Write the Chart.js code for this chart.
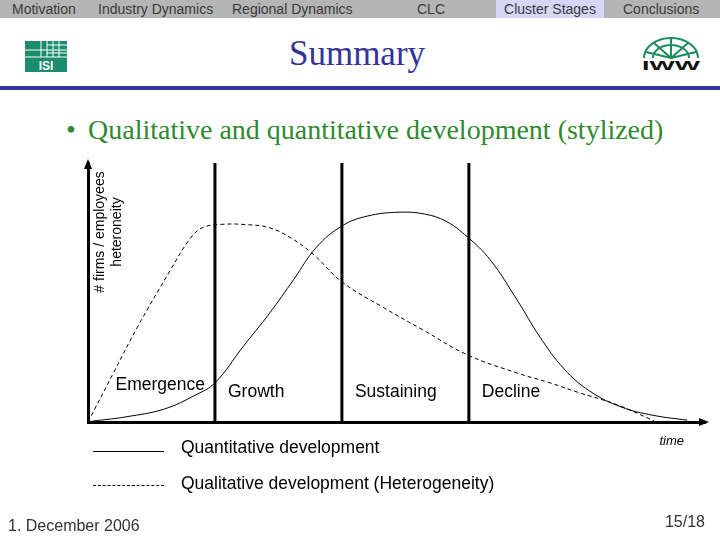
<!DOCTYPE html>
<html>
<head>
<meta charset="utf-8">
<script src="https://cdn.jsdelivr.net/npm/chart.js@4.4.1/dist/chart.umd.min.js"></script>
<style>
  body { margin: 0; background: #fff; }
  #slide { position: relative; width: 720px; height: 540px; overflow: hidden; font-family: "Liberation Sans", Arial, sans-serif; }
  #nav { position: absolute; left: 0; top: 0; width: 720px; height: 18px; background: #b5b5b5; }
  #nav span { position: absolute; top: 0; height: 18px; line-height: 18px; font-size: 14px; color: #3a3a3a; }
  #nav .on { background: #d6d6f6; }
  #title { position: absolute; left: 0; width: 714px; top: 34px; text-align: center; font-family: "Liberation Serif", "Times New Roman", serif; font-size: 35px; color: #333399; }
  #rule { position: absolute; left: 0; top: 86px; width: 720px; height: 4px; background: #333399; }
  .bul { position: absolute; top: 114px; font-family: "Liberation Serif", "Times New Roman", serif; font-size: 28px; color: #2f8a2f; white-space: nowrap; }
  #chart { position: absolute; left: 0; top: 0; }
  .leg { position: absolute; font-size: 17.5px; color: #000; white-space: nowrap; }
  .legline { position: absolute; left: 93px; width: 71px; height: 0; }
  .foot { position: absolute; font-size: 16px; color: #333; }
</style>
</head>
<body>
<div id="slide">
  <div id="nav">
    <span style="left:12px">Motivation</span>
    <span style="left:98px">Industry Dynamics</span>
    <span style="left:232px">Regional Dynamics</span>
    <span style="left:417px">CLC</span>
    <span class="on" style="left:496px;width:108px;text-align:center">Cluster Stages</span>
    <span style="left:623px">Conclusions</span>
  </div>
  <svg style="position:absolute;left:25px;top:41px" width="42" height="31">
    <rect x="0" y="0" width="42" height="31" fill="#1b8c6c"/>
    <g stroke="#fff" stroke-width="1">
      <line x1="0" y1="9" x2="42" y2="9"/><line x1="0" y1="16" x2="42" y2="16"/>
      <line x1="16" y1="0" x2="16" y2="16"/>
      <line x1="22" y1="0" x2="22" y2="16"/><line x1="28" y1="0" x2="28" y2="16"/>
      <line x1="34" y1="0" x2="34" y2="16"/><line x1="22" y1="4" x2="42" y2="4"/>
      <line x1="22" y1="12" x2="42" y2="12"/>
    </g>
    <text x="21" y="29" font-family="Liberation Sans, Arial" font-weight="bold" font-size="12" fill="#fff" text-anchor="middle">ISI</text>
  </svg>
  <svg style="position:absolute;left:639px;top:37px" width="64" height="34">
    <g fill="none" stroke="#1b8c5c" stroke-width="2">
      <path d="M5 21 A27 20 0 0 1 59 21"/>
      <path d="M14 21 A18 13 0 0 1 50 21"/>
      <line x1="32" y1="21" x2="32" y2="1"/><line x1="32" y1="21" x2="15" y2="6"/>
      <line x1="32" y1="21" x2="49" y2="6"/><line x1="32" y1="21" x2="7" y2="15"/>
      <line x1="32" y1="21" x2="57" y2="15"/>
    </g>
    <text x="32" y="33" font-family="Liberation Sans, Arial" font-weight="900" font-size="13" fill="#111" text-anchor="middle" textLength="58" lengthAdjust="spacingAndGlyphs">IWW</text>
  </svg>
  <div id="title">Summary</div>
  <div id="rule"></div>
  <div class="bul" style="left:66px">&bull;</div>
  <div class="bul" style="left:88px">Qualitative and quantitative development (stylized)</div>
  <canvas id="chart" width="720" height="540"></canvas>
  <div class="legline" style="top:451px;border-top:1px solid #000"></div>
  <div class="leg" style="left:181px;top:437px">Quantitative development</div>
  <div class="legline" style="top:485px;border-top:1px dashed #000"></div>
  <div class="leg" style="left:181px;top:473px">Qualitative development (Heterogeneity)</div>
  <div class="foot" style="left:8px;top:517px">1. December 2006</div>
  <div class="foot" style="right:15px;top:513px">15/18</div>
</div>
<script>
// stylized curves, x = time (1 unit per stage), y = 0..100
const quantX = [0.03, 0.3, 0.6, 0.85, 1.0, 1.22, 1.43, 1.62, 1.8, 2.0, 2.2, 2.45, 2.65, 2.82, 2.99, 3.17, 3.38, 3.56, 3.75, 3.95, 4.2, 4.45, 4.72];
const quantY = [0.3, 2, 5, 10.5, 15.1, 29, 42, 55, 67.5, 75.7, 79.5, 81, 80.3, 77.5, 71.4, 62.5, 47.1, 32.8, 20.5, 12, 5.8, 2.6, 0.7];
const qualX = [0, 0.2, 0.39, 0.65, 0.8, 0.9, 1.05, 1.25, 1.43, 1.6, 1.78, 2.0, 2.32, 2.64, 2.99, 3.38, 3.64, 3.85, 4.17, 4.46];
const qualY = [0, 18.9, 36.7, 58.7, 70.5, 75, 76.3, 76.2, 75, 71, 64.5, 54.1, 44.4, 35.5, 25.9, 18.9, 15.1, 11.6, 6.6, 0.4];
const stageBounds = [1, 2, 3];
const stageNames = ['Emergence', 'Growth', 'Sustaining', 'Decline'];
const xMax = 4.86;
const yMax = 100;

const toPts = (xs, ys) => xs.map((x, i) => ({ x: x, y: ys[i] }));

const datasets = [
    {
        label: 'Quantitative development',
        data: toPts(quantX, quantY),
        borderColor: '#000', borderWidth: 1, pointRadius: 0,
        tension: 0.4, clip: false
    },
    {
        label: 'Qualitative development (Heterogeneity)',
        data: toPts(qualX, qualY),
        borderColor: '#000', borderWidth: 1, borderDash: [4, 3], pointRadius: 0,
        tension: 0.4, clip: false
    }
];
stageBounds.forEach(b => {
    datasets.push({
        data: [{ x: b, y: 0 }, { x: b, y: yMax }],
        borderColor: '#000', borderWidth: 3, pointRadius: 0, clip: false
    });
});

// arrows, stage names, y title, "time"
const decor = {
    id: 'decor',
    afterDraw(chart) {
        const ctx = chart.ctx;
        const xs = chart.scales.x;
        const left = chart.chartArea.left, bottom = chart.chartArea.bottom;
        const top = chart.chartArea.top, right = chart.chartArea.right;
        ctx.save();
        ctx.fillStyle = '#000';
        // arrow heads
        ctx.beginPath();
        ctx.moveTo(left, top - 4); ctx.lineTo(left - 4, top + 6); ctx.lineTo(left + 4, top + 6); ctx.closePath();
        ctx.fill();
        ctx.beginPath();
        ctx.moveTo(right + 4, bottom); ctx.lineTo(right - 6, bottom - 4); ctx.lineTo(right - 6, bottom + 4); ctx.closePath();
        ctx.fill();

        // stage names
        ctx.font = '17.5px "Liberation Sans", Arial, sans-serif';
        ctx.textBaseline = 'middle';
        ctx.textAlign = 'right';
        ctx.fillText(stageNames[0], xs.getPixelForValue(stageBounds[0]) - 10, 385);
        ctx.textAlign = 'left';
        for (let i = 1; i < stageNames.length; i++) {
            ctx.fillText(stageNames[i], xs.getPixelForValue(stageBounds[i - 1]) + 13, 392);
        }

        // y title
        ctx.font = '14px "Liberation Sans", Arial, sans-serif';
        ctx.textAlign = 'center';
        ctx.translate(left + 12, 232);
        ctx.rotate(-Math.PI / 2);
        ctx.fillText('# firms / employees', 0, 0);
        ctx.fillText('heteroneity', 0, 17);
        ctx.setTransform(1, 0, 0, 1, 0, 0);

        // time
        ctx.font = 'italic 13px "Liberation Sans", Arial, sans-serif';
        ctx.textAlign = 'right';
        ctx.fillText('time', 684, 441);
        ctx.restore();
    }
};

new Chart(document.getElementById('chart').getContext('2d'), {
    type: 'line',
    data: { datasets },
    options: {
        responsive: false,
        animation: false,
        layout: { padding: { left: 88, right: 15, top: 163, bottom: 118 } },
        plugins: { legend: { display: false }, tooltip: { enabled: false } },
        scales: {
            x: {
                type: 'linear', min: 0, max: xMax,
                grid: { display: false, drawTicks: false },
                ticks: { display: false },
                border: { display: true, color: '#000', width: 3 }
            },
            y: {
                min: 0, max: yMax,
                grid: { display: false, drawTicks: false },
                ticks: { display: false },
                border: { display: true, color: '#000', width: 3 }
            }
        }
    },
    plugins: [decor]
});
</script>
</body>
</html>
